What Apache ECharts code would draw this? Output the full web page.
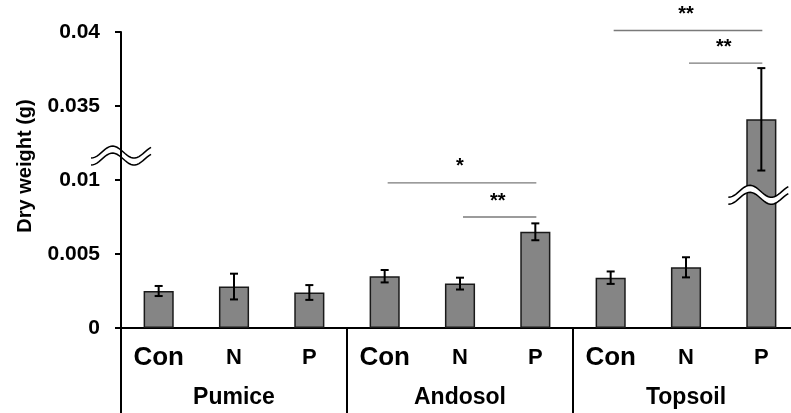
<!DOCTYPE html>
<html><head><meta charset="utf-8">
<script src="https://cdn.jsdelivr.net/npm/echarts@6/dist/echarts.min.js"></script>
<style>html,body{margin:0;padding:0;background:#fff}#c{width:791px;height:413px}</style>
</head><body><div id="c"></div>
<script>
// ---- data ----
const categories = ['Con', 'N', 'P', 'Con', 'N', 'P', 'Con', 'N', 'P'];
const groups = ['Pumice', 'Andosol', 'Topsoil'];
const dryWeight = [0.0025, 0.0028, 0.0024, 0.0035, 0.0030, 0.0065, 0.0034, 0.0041, 0.0341];
const stdErr = [0.00034, 0.00087, 0.0005, 0.00042, 0.0004, 0.00057, 0.00042, 0.00068, 0.00346];
const yTickLabels = ['0', '0.005', '0.01', '0.035', '0.04'];
const sigPairs = [[3, 5], [4, 5], [6, 8], [7, 8]];
const sigLevel = [0.0098, 0.0075, 0.0401, 0.0379];
const sigText = ['*', '**', '**', '**'];
// axis break: values above the break are shown shifted down by BREAK_OFFSET
const BREAK_OFFSET = 0.02;
// break marks: [category index, displayed y, shift in bands, has white fill]
const breakMarks = [[0, 0.01165, -0.5, 0], [8, 0.0090, -0.04, 1]];

const FONT = 'Liberation Sans, Arial, sans-serif';
const toDisp = v => (v > BREAK_OFFSET ? v - BREAK_OFFSET : v);

const chart = echarts.init(document.getElementById('c'), null, { renderer: 'canvas' });

const GRID = { left: 121, top: 32, width: 678, height: 296, outerBoundsMode: 'none', containLabel: false };

function wavePts(x0, w, yc, amp) {
  const pts = [];
  const n = 30;
  for (let k = 0; k <= n; k++) {
    const t = k / n;
    pts.push([x0 + t * w, yc - amp * Math.sin(-1.6 + t * 2 * Math.PI * 1.4)]);
  }
  return pts;
}

const option = {
  backgroundColor: '#fff',
  animation: false,
  grid: [
    Object.assign({}, GRID),
    Object.assign({}, GRID)
  ],
  xAxis: [{
    type: 'category',
    gridIndex: 0,
    data: categories,
    position: 'bottom',
    axisLine: { show: true, lineStyle: { color: '#000', width: 2 } },
    axisTick: {
      show: true, length: 85, inside: false,
      interval: (i) => i % 3 === 0,
      lineStyle: { color: '#000', width: 2 }
    },
    axisLabel: {
      interval: 0, margin: 16, color: '#000',
      formatter: v => (v === 'Con' ? '{big|Con}' : '{small|' + v + '}'),
      rich: {
        big: { fontSize: 26, fontWeight: 'bold', fontFamily: FONT, lineHeight: 28, color: '#000' },
        small: { fontSize: 22, fontWeight: 'bold', fontFamily: FONT, lineHeight: 28, color: '#000' }
      }
    },
    splitLine: { show: false }
  }, {
    type: 'category',
    gridIndex: 1,
    data: groups,
    position: 'bottom',
    axisLine: { show: false },
    axisTick: { show: false },
    axisLabel: { margin: 58, fontSize: 23, fontWeight: 'bold', fontFamily: FONT, color: '#000' },
    splitLine: { show: false }
  }],
  yAxis: [{
    type: 'value',
    gridIndex: 0,
    min: 0, max: 0.02, interval: 0.005,
    axisLine: { show: true, lineStyle: { color: '#000', width: 2 } },
    axisTick: { show: true, length: 6, lineStyle: { color: '#000', width: 2 } },
    splitLine: { show: false },
    axisLabel: {
      formatter: v => yTickLabels[Math.round(v / 0.005)],
      fontSize: 21, fontWeight: 'bold', fontFamily: FONT, color: '#000', margin: 21
    }
  }, {
    type: 'value', gridIndex: 1, min: 0, max: 0.02, show: false
  }],
  graphic: [{
    type: 'text', x: 25, y: 166, rotation: Math.PI / 2,
    style: {
      text: 'Dry weight (g)', fontSize: 20, fontWeight: 'bold', fontFamily: FONT,
      fill: '#000', textAlign: 'center', textVerticalAlign: 'middle'
    }
  }],
  series: [{
    type: 'bar',
    xAxisIndex: 0, yAxisIndex: 0,
    data: dryWeight.map(toDisp),
    barWidth: '40%',
    itemStyle: { color: '#858585', borderColor: '#1a1a1a', borderWidth: 1.5 },
    z: 2
  }, {
    type: 'custom',
    xAxisIndex: 0, yAxisIndex: 0,
    data: dryWeight.map((v, i) => [i, toDisp(v - stdErr[i]), toDisp(v + stdErr[i])]),
    encode: { x: 0, y: [1, 2] },
    clip: false,
    z: 5,
    renderItem: (params, api) => {
      const lo = api.coord([api.value(0), api.value(1)]);
      const hi = api.coord([api.value(0), api.value(2)]);
      const hw = 4;
      const st = { stroke: '#000', lineWidth: 2 };
      return {
        type: 'group', children: [
          { type: 'line', shape: { x1: lo[0], y1: lo[1], x2: hi[0], y2: hi[1] }, style: st },
          { type: 'line', shape: { x1: lo[0] - hw, y1: lo[1], x2: lo[0] + hw, y2: lo[1] }, style: st },
          { type: 'line', shape: { x1: hi[0] - hw, y1: hi[1], x2: hi[0] + hw, y2: hi[1] }, style: st }
        ]
      };
    }
  }, {
    type: 'custom',
    xAxisIndex: 0, yAxisIndex: 0,
    data: sigPairs.map((p, i) => [p[0], p[1], toDisp(sigLevel[i])]),
    encode: { x: [0, 1], y: 2 },
    clip: false,
    z: 6,
    renderItem: (params, api) => {
      const a = api.coord([api.value(0), api.value(2)]);
      const b = api.coord([api.value(1), api.value(2)]);
      return {
        type: 'group', children: [
          { type: 'line', shape: { x1: a[0] + 3, y1: a[1], x2: b[0] + 1, y2: b[1] }, style: { stroke: '#7a7a7a', lineWidth: 1.3 } },
          {
            type: 'text', x: (a[0] + b[0]) / 2, y: a[1] - 16,
            style: { text: sigText[params.dataIndex], fontSize: 20, fontWeight: 'bold', fontFamily: FONT, fill: '#000', textAlign: 'center', textVerticalAlign: 'middle' }
          }
        ]
      };
    }
  }, {
    type: 'custom',
    xAxisIndex: 0, yAxisIndex: 0,
    data: breakMarks,
    encode: { x: 0, y: 1 },
    clip: false,
    z: 10,
    renderItem: (params, api) => {
      const c = api.coord([api.value(0), api.value(1)]);
      const band = api.size([1, 0])[0];
      const cx = c[0] + api.value(2) * band;
      const w = 60, amp = 6, gap = 7;
      const x0 = cx - w / 2;
      const up = wavePts(x0, w, c[1] - gap / 2, amp);
      const dn = wavePts(x0, w, c[1] + gap / 2, amp);
      const children = [];
      if (api.value(3)) {
        children.push({ type: 'polygon', shape: { points: up.concat(dn.slice().reverse()) }, style: { fill: '#fff', stroke: null } });
      }
      children.push({ type: 'polyline', shape: { points: up }, style: { stroke: '#000', lineWidth: 1.5, fill: null } });
      children.push({ type: 'polyline', shape: { points: dn }, style: { stroke: '#000', lineWidth: 1.5, fill: null } });
      return { type: 'group', children };
    }
  }]
};
chart.setOption(option);
</script>
</body></html>
